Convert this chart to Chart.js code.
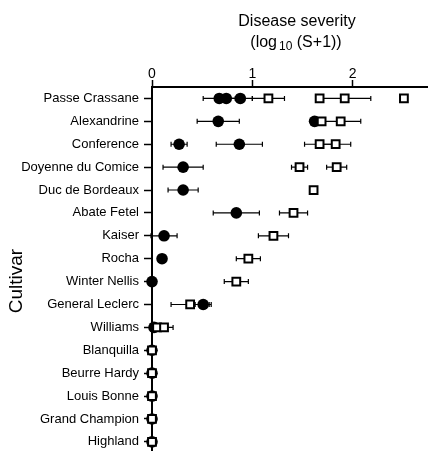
<!DOCTYPE html>
<html>
<head>
<meta charset="utf-8">
<script src="https://cdn.jsdelivr.net/npm/chart.js@4"></script>
<style>
  html, body { margin: 0; padding: 0; background: #fff; }
  #wrap { width: 429px; height: 451px; }
</style>
</head>
<body>
<div id="wrap"><canvas id="severityChart"></canvas></div>
<script>
var cultivars = ['Passe Crassane', 'Alexandrine', 'Conference', 'Doyenne du Comice', 'Duc de Bordeaux',
    'Abate Fetel', 'Kaiser', 'Rocha', 'Winter Nellis', 'General Leclerc', 'Williams',
    'Blanquilla', 'Beurre Hardy', 'Louis Bonne', 'Grand Champion', 'Highland'];
var xTicks = [0, 1, 2];

// filled circles: row index, mean, +/- error
var circleRow = [0, 0, 0, 1, 1, 2, 2, 3, 4, 5, 6, 7, 8, 9, 10, 11, 12, 13, 14, 15];
var circleVal = [0.67, 0.74, 0.88, 0.66, 1.62, 0.27, 0.87, 0.31, 0.31, 0.84, 0.12, 0.10, 0.00, 0.51, 0.02, 0.00, 0.00, 0.00, 0.00, 0.00];
var circleErr = [0.16, 0, 0.12, 0.21, 0, 0.08, 0.23, 0.20, 0.15, 0.23, 0.13, 0, 0, 0.08, 0, 0, 0, 0, 0, 0];

// open squares
var squareRow = [0, 0, 0, 0, 1, 1, 2, 2, 3, 3, 4, 5, 6, 7, 8, 9, 10, 10, 11, 12, 13, 14, 15];
var squareVal = [1.16, 1.67, 1.92, 2.51, 1.69, 1.88, 1.67, 1.83, 1.47, 1.84, 1.61, 1.41, 1.21, 0.96, 0.84, 0.38, 0.05, 0.12, 0.00, 0.00, 0.00, 0.00, 0.00];
var squareErr = [0.16, 0, 0.26, 0, 0, 0.20, 0.15, 0.15, 0.08, 0.10, 0, 0.14, 0.15, 0.12, 0.12, 0.19, 0, 0.09, 0, 0, 0, 0, 0];

function points(rows, vals, errs) {
    return rows.map(function(r, i) { return { x: vals[i], y: r, err: errs[i] }; });
}

var FONT = "'Liberation Sans', Arial, Helvetica, sans-serif";

// horizontal error bars with end caps, drawn under the markers
var errorBars = {
    id: 'errorBars',
    beforeDatasetsDraw: function(chart) {
        var ctx = chart.ctx;
        var xs = chart.scales.x, ys = chart.scales.y;
        ctx.save();
        ctx.strokeStyle = '#000';
        ctx.lineWidth = 1.2;
        chart.data.datasets.forEach(function(ds) {
            ds.data.forEach(function(p) {
                if (!p.err) return;
                var py = ys.getPixelForValue(p.y);
                var a = xs.getPixelForValue(p.x - p.err);
                var b = xs.getPixelForValue(p.x + p.err);
                ctx.beginPath();
                ctx.moveTo(a, py); ctx.lineTo(b, py);
                ctx.moveTo(a, py - 2.5); ctx.lineTo(a, py + 2.5);
                ctx.moveTo(b, py - 2.5); ctx.lineTo(b, py + 2.5);
                ctx.stroke();
            });
        });
        ctx.restore();
    }
};

// axis titles: the x one needs a real subscript, the y one sits a bit low
var axisTitles = {
    id: 'axisTitles',
    afterDraw: function(chart) {
        var ctx = chart.ctx;
        ctx.save();
        ctx.fillStyle = '#000';
        ctx.textBaseline = 'alphabetic';

        ctx.font = '16px ' + FONT;
        ctx.textAlign = 'center';
        ctx.fillText('Disease severity', 297, 26);

        // second line: (log10 (S+1)) with "10" as subscript
        var a = '(log', sub = '10', b = ' (S+1))';
        ctx.font = '16px ' + FONT;
        var wa = ctx.measureText(a).width, wb = ctx.measureText(b).width;
        ctx.font = '12px ' + FONT;
        var ws = ctx.measureText(sub).width + 2;
        var x0 = 296 - (wa + ws + wb) / 2;
        ctx.textAlign = 'left';
        ctx.font = '16px ' + FONT;
        ctx.fillText(a, x0, 47);
        ctx.font = '12px ' + FONT;
        ctx.fillText(sub, x0 + wa + 2, 50);
        ctx.font = '16px ' + FONT;
        ctx.fillText(b, x0 + wa + ws, 47);

        ctx.translate(17, 281);
        ctx.rotate(-Math.PI / 2);
        ctx.font = '19px ' + FONT;
        ctx.textAlign = 'center';
        ctx.textBaseline = 'middle';
        ctx.fillText('Cultivar', 0, 0);
        ctx.restore();
    }
};

var ctx = document.getElementById('severityChart').getContext('2d');
var myChart = new Chart(ctx, {
    type: 'scatter',
    data: {
        datasets: [{
            data: points(squareRow, squareVal, squareErr),
            pointStyle: 'rect',
            pointRadius: 5.5,
            backgroundColor: '#fff',
            borderColor: '#000',
            borderWidth: 2,
            clip: false,
            order: 0
        }, {
            data: points(circleRow, circleVal, circleErr),
            pointStyle: 'circle',
            pointRadius: 5.8,
            backgroundColor: '#000',
            borderColor: '#000',
            borderWidth: 0,
            clip: false,
            order: 1
        }]
    },
    plugins: [errorBars, axisTitles],
    options: {
        responsive: true,
        maintainAspectRatio: false,
        animation: false,
        layout: { autoPadding: false, padding: { right: 2, top: 0, bottom: 0 } },
        plugins: {
            legend: { display: false },
            tooltip: { enabled: false }
        },
        scales: {
            x: {
                type: 'linear',
                position: 'top',
                min: 0,
                max: 2.74,
                afterBuildTicks: function(axis) {
                    axis.ticks = xTicks.map(function(v) { return { value: v }; });
                },
                afterFit: function(axis) {
                    axis.height = 87;
                    axis.paddingLeft = 0;
                    axis.paddingRight = 0;
                },
                border: { display: true, color: '#000', width: 2 },
                grid: { drawOnChartArea: false, tickLength: 7, tickColor: '#000', tickWidth: 1.5 },
                ticks: { color: '#000', font: { family: FONT, size: 14 }, padding: -3 },
                title: { display: false }
            },
            y: {
                type: 'linear',
                reverse: true,
                min: -0.5,
                max: 15.4,
                afterBuildTicks: function(axis) {
                    axis.ticks = cultivars.map(function(c, i) { return { value: i }; });
                },
                afterFit: function(axis) {
                    axis.width = 152;
                    axis.paddingTop = 0;
                    axis.paddingBottom = 0;
                },
                border: { display: true, color: '#000', width: 2 },
                grid: { drawOnChartArea: false, tickLength: 8, tickColor: '#000', tickWidth: 1.5 },
                ticks: {
                    color: '#000',
                    font: { family: FONT, size: 13 },
                    padding: 5,
                    callback: function(v) { return cultivars[v]; }
                },
                title: { display: false }
            }
        }
    }
});
</script>
</body>
</html>
